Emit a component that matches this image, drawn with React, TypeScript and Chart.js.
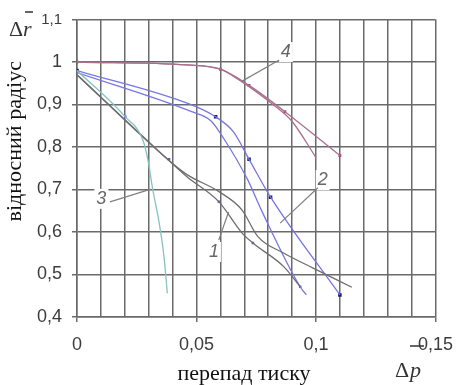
import React, { useEffect, useRef } from "react";
import { Chart, registerables } from "chart.js";

Chart.register(...registerables);

// X axis: pressure drop; Y axis: relative radius
const xTickValues = [0, 0.05, 0.1, 0.15];
const yTickValues = [0.4, 0.5, 0.6, 0.7, 0.8, 0.9, 1.0, 1.1];

// Curve 4 (two branches)
const c4aX = [0, 0.046, 0.06, 0.072, 0.087, 0.11];
const c4aY = [1.0, 0.993, 0.983, 0.945, 0.883, 0.78];
const c4bX = [0, 0.046, 0.06, 0.065, 0.072, 0.082, 0.09, 0.1];
const c4bY = [1.0, 0.993, 0.983, 0.968, 0.942, 0.9, 0.86, 0.775];
const c4mX = [0, 0.06, 0.072, 0.087, 0.11];
const c4mY = [1.0, 0.983, 0.945, 0.883, 0.78];

// Curve 2 (two branches)
const c2aX = [0, 0.048, 0.058, 0.0654, 0.072, 0.081, 0.11];
const c2aY = [0.98, 0.899, 0.871, 0.836, 0.771, 0.682, 0.452];
const c2bX = [0, 0.048, 0.056, 0.0614, 0.0715, 0.0771, 0.0935, 0.096];
const c2bY = [0.975, 0.883, 0.862, 0.82, 0.722, 0.652, 0.47, 0.452];
const c2mX = [0, 0.058, 0.072, 0.081, 0.11];
const c2mY = [0.98, 0.871, 0.771, 0.682, 0.452];

// Curve 1 (two branches)
const c1aX = [0, 0.0385, 0.046, 0.0594, 0.069, 0.0757, 0.0866, 0.0988, 0.115];
const c1aY = [0.97, 0.768, 0.735, 0.695, 0.652, 0.589, 0.55, 0.515, 0.47];
const c1bX = [0, 0.0385, 0.046, 0.0594, 0.069, 0.0736, 0.0866, 0.0934];
const c1bY = [0.97, 0.768, 0.73, 0.671, 0.598, 0.574, 0.518, 0.471];

// Curve 3
const c3X = [0, 0.0202, 0.0276, 0.0297, 0.0317, 0.0344, 0.0364, 0.0378];
const c3Y = [0.98, 0.871, 0.816, 0.769, 0.7, 0.621, 0.542, 0.456];

// small light markers
const smX = [0.0202, 0.0385, 0.0594, 0.0736, 0.0934];
const smY = [0.871, 0.771, 0.671, 0.574, 0.471];

// Annotation labels
const annText = ["4", "2", "1", "3"];
const annTX = [0.0874, 0.1028, 0.0573, 0.0102];
const annTY = [1.0235, 0.722, 0.553, 0.678];
const annFX = [0.0846, 0.1008, 0.0593, 0.0138];
const annFY = [1.0047, 0.704, 0.581, 0.671];
const annEX = [0.0691, 0.085, 0.0634, 0.0309];
const annEY = [0.955, 0.621, 0.647, 0.701];

const pts = (xs: number[], ys: number[]) => xs.map((x, i) => ({ x, y: ys[i] }));
const fmt = (v: number) => String(Math.round(v * 100) / 100).replace(".", ",");
const isMajorX = (v: number) => xTickValues.some((t) => Math.abs(t - v) < 1e-6);

const GRID = "#6a6a6a";
const TICK = "#3c3c3c";

export default function App() {
  const ref = useRef<HTMLCanvasElement | null>(null);
  useEffect(() => {
    if (!ref.current) return;
    const line = (data: any, color: string) => ({
      data,
      borderColor: color,
      backgroundColor: color,
      borderWidth: 1.3,
      pointRadius: 0,
      cubicInterpolationMode: "monotone" as const,
      fill: false,
    });
    const marks = (data: any, color: string, r: number) => ({
      data,
      showLine: false,
      borderColor: color,
      backgroundColor: color,
      pointRadius: r,
      pointStyle: "rect" as const,
      borderWidth: 0,
    });

    const overlay = {
      id: "overlay",
      afterDatasetsDraw(chart: any) {
        const ctx = chart.ctx as CanvasRenderingContext2D;
        const xs = chart.scales.x;
        const ys = chart.scales.y;
        ctx.save();
        for (let i = 0; i < annText.length; i++) {
          const fx = xs.getPixelForValue(annFX[i]);
          const fy = ys.getPixelForValue(annFY[i]);
          const ex = xs.getPixelForValue(annEX[i]);
          const ey = ys.getPixelForValue(annEY[i]);
          const tx = xs.getPixelForValue(annTX[i]);
          const ty = ys.getPixelForValue(annTY[i]);
          ctx.fillStyle = "#ffffff";
          ctx.fillRect(tx - 7, ty - 10, 14, 20);
          ctx.strokeStyle = "#808080";
          ctx.lineWidth = 1.2;
          ctx.beginPath();
          ctx.moveTo(fx, fy);
          ctx.lineTo(ex, ey);
          ctx.stroke();
          ctx.fillStyle = "#666666";
          ctx.font = 'italic 18px "Liberation Sans"';
          ctx.textAlign = "center";
          ctx.textBaseline = "middle";
          ctx.fillText(annText[i], tx, ty);
        }
        ctx.restore();
      },
      afterDraw(chart: any) {
        const ctx = chart.ctx as CanvasRenderingContext2D;
        const a = chart.chartArea;
        ctx.save();
        ctx.fillStyle = "#111";
        ctx.translate(15, (a.top + a.bottom) / 2 - 27);
        ctx.rotate(-Math.PI / 2);
        ctx.font = '22px "Liberation Serif"';
        ctx.textAlign = "center";
        ctx.textBaseline = "middle";
        ctx.fillText("відносний радіус", 0, 0);
        ctx.restore();

        ctx.save();
        ctx.fillStyle = "#111";
        ctx.font = '22px "Liberation Serif"';
        ctx.textAlign = "center";
        ctx.textBaseline = "middle";
        ctx.fillText("перепад тиску", 244, 374);

        ctx.fillStyle = "#333";
        ctx.textAlign = "left";
        ctx.textBaseline = "alphabetic";
        ctx.font = '22px "Liberation Serif"';
        ctx.fillText("Δ", 9, 36);
        ctx.font = 'italic 22px "Liberation Serif"';
        ctx.fillText("r", 23, 36);
        ctx.strokeStyle = "#333";
        ctx.lineWidth = 1.5;
        ctx.beginPath();
        ctx.moveTo(25, 12);
        ctx.lineTo(33, 12);
        ctx.stroke();

        ctx.font = '22px "Liberation Serif"';
        ctx.fillText("Δ", 395, 377);
        ctx.font = 'italic 22px "Liberation Serif"';
        ctx.fillText("p", 410, 377);
        ctx.beginPath();
        ctx.moveTo(410, 346);
        ctx.lineTo(424, 346);
        ctx.stroke();
        ctx.restore();
      },
    };

    const chart = new Chart(ref.current, {
      type: "line",
      data: {
        datasets: [
          line(pts(c3X, c3Y), "#86c2c2"),
          line(pts(c1aX, c1aY), "#6e6e6e"),
          line(pts(c1bX, c1bY), "#6e6e6e"),
          line(pts(c2aX, c2aY), "#7676e4"),
          line(pts(c2bX, c2bY), "#7676e4"),
          line(pts(c4aX, c4aY), "#a8708e"),
          line(pts(c4bX, c4bY), "#a8708e"),
          marks(pts(c4mX, c4mY), "#a05078", 2),
          marks(pts(c2mX, c2mY), "#1a1a7a", 2.5),
          marks(pts(smX, smY), "#5a5ad0", 1.8),
        ] as any,
      },
      options: {
        animation: false,
        responsive: false,
        maintainAspectRatio: false,
        layout: { padding: { top: 19.5, right: 20, left: 0, bottom: 0 } },
        plugins: { legend: { display: false }, tooltip: { enabled: false } },
        scales: {
          x: {
            type: "linear",
            min: 0,
            max: 0.15,
            afterFit: (s: any) => {
              s.height = 68;
            },
            afterBuildTicks: (s: any) => {
              const t = [];
              for (let i = 0; i <= 15; i++) t.push({ value: i / 100 });
              s.ticks = t;
            },
            ticks: {
              autoSkip: false,
              maxRotation: 0,
              padding: 12,
              color: TICK,
              font: { family: '"Liberation Sans"', size: 18 },
              callback: (v: any) => (isMajorX(Number(v)) ? fmt(Number(v)) : ""),
            },
            grid: {
              color: GRID,
              lineWidth: 1.5,
              tickLength: 5,
              tickColor: (c: any) =>
                c.tick && isMajorX(c.tick.value) ? GRID : "rgba(0,0,0,0)",
            },
            border: { color: GRID, width: 1.5 },
          },
          y: {
            type: "linear",
            min: 0.4,
            max: 1.1,
            afterFit: (s: any) => {
              s.width = 77;
            },
            afterBuildTicks: (s: any) => {
              s.ticks = yTickValues.map((value) => ({ value }));
            },
            ticks: {
              padding: 10,
              color: TICK,
              font: (c: any) => ({
                family: '"Liberation Sans"',
                size: c.tick && c.tick.value > 1.05 ? 15 : 18,
              }),
              callback: (v: any) => fmt(Number(v)),
            },
            grid: { color: GRID, lineWidth: 1.5, tickLength: 5, tickColor: GRID },
            border: { color: GRID, width: 1.5 },
          },
        },
      },
      plugins: [overlay],
    });
    return () => chart.destroy();
  }, []);

  return (
    <div style={{ position: "absolute", left: 0, top: 0, width: 465, height: 385, background: "#fff" }}>
      <canvas ref={ref} width={465} height={385} style={{ width: 465, height: 385 }} />
    </div>
  );
}
